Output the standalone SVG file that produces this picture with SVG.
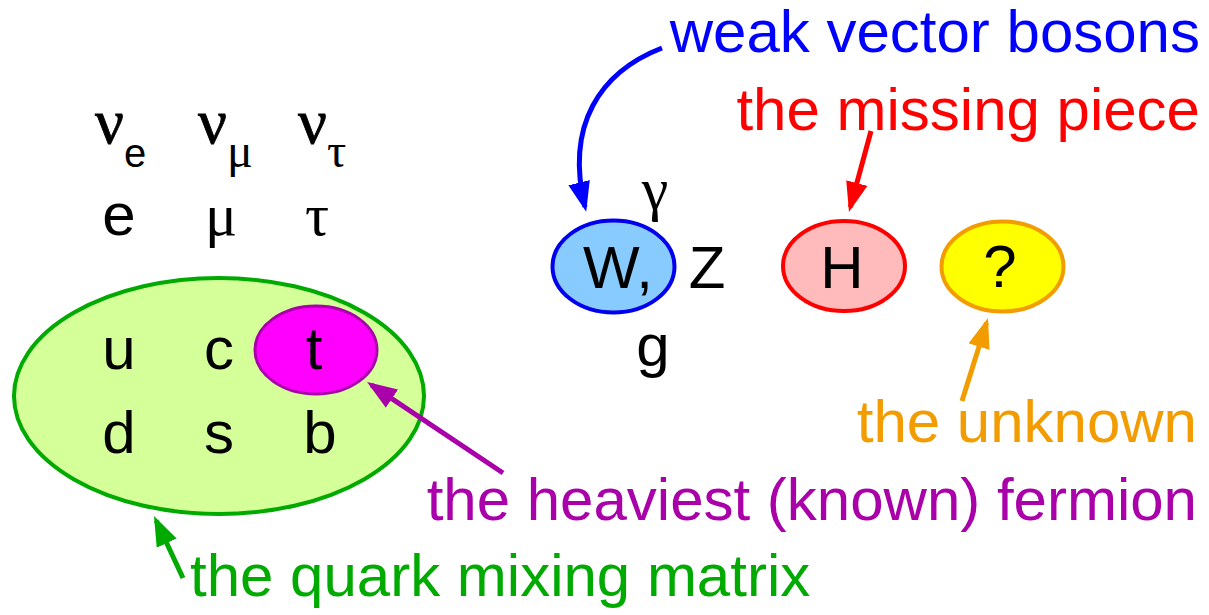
<svg xmlns="http://www.w3.org/2000/svg" width="1209" height="615" viewBox="0 0 1209 615">
<style>
.t{font-family:"Liberation Sans",Arial,sans-serif;font-size:60px;fill:#000;text-anchor:middle}
.g{font-family:"Liberation Serif","Times New Roman",serif;font-size:60px;fill:#000;text-anchor:middle}
.nu{font-family:"Liberation Serif","Times New Roman",serif;font-size:64px;fill:#000;stroke:#000;stroke-width:0.8}
.sub{font-size:40px;stroke:none}
.gsub{font-size:48px;stroke:none}
.lbl{font-family:"Liberation Sans",Arial,sans-serif;font-size:60px}
.arr{fill:none;stroke-width:5}
</style>
<defs>
<marker id="mb" markerWidth="6" markerHeight="4.4" refX="5" refY="2.2" orient="auto" markerUnits="strokeWidth"><path d="M0,0 L6,2.2 L0,4.4 z" fill="#0000ff"/></marker>
<marker id="mr" markerWidth="6" markerHeight="4.4" refX="5" refY="2.2" orient="auto" markerUnits="strokeWidth"><path d="M0,0 L6,2.2 L0,4.4 z" fill="#ff0000"/></marker>
<marker id="mo" markerWidth="6" markerHeight="4.4" refX="5" refY="2.2" orient="auto" markerUnits="strokeWidth"><path d="M0,0 L6,2.2 L0,4.4 z" fill="#f29c00"/></marker>
<marker id="mm" markerWidth="6" markerHeight="4.4" refX="5" refY="2.2" orient="auto" markerUnits="strokeWidth"><path d="M0,0 L6,2.2 L0,4.4 z" fill="#aa00aa"/></marker>
<marker id="mg" markerWidth="6" markerHeight="4.4" refX="5" refY="2.2" orient="auto" markerUnits="strokeWidth"><path d="M0,0 L6,2.2 L0,4.4 z" fill="#00aa00"/></marker>
</defs>

<g id="leptons">
<text class="nu" x="95" y="143">ν<tspan class="sub" font-family="Liberation Sans,Arial,sans-serif" dy="24">e</tspan></text>
<text class="nu" x="198" y="143">ν<tspan class="gsub" dy="24">μ</tspan></text>
<text class="nu" x="298" y="143">ν<tspan class="gsub" dy="24">τ</tspan></text>
<text class="t" x="119" y="235">e</text>
<text class="g" x="221" y="235" font-size="66">μ</text>
<text class="g" x="317" y="235" font-size="66">τ</text>
</g>

<g id="quark-matrix">
<ellipse cx="219" cy="396" rx="205" ry="118" fill="#d4ff99" stroke="#00aa00" stroke-width="4"/>
<text class="t" x="119" y="369">u</text>
<text class="t" x="219" y="369">c</text>
<text class="t" x="119" y="453">d</text>
<text class="t" x="219" y="453">s</text>
<text class="t" x="320" y="453">b</text>
</g>

<g id="top">
<ellipse cx="316" cy="350" rx="61" ry="44" fill="#ff00ff" stroke="#aa00aa" stroke-width="3"/>
<text class="t" x="314" y="369">t</text>
</g>

<g id="W">
<ellipse cx="613.5" cy="266.5" rx="61" ry="46" fill="#88ccff" stroke="#0000ee" stroke-width="4"/>
<text class="t" x="618" y="288">W,</text>
</g>
<g id="bosons">
<text class="t" x="707" y="288">Z</text>
<text class="g" x="655" y="209">γ</text>
<text class="t" x="653" y="366">g</text>
</g>

<g id="H">
<ellipse cx="844" cy="266" rx="61" ry="45" fill="#ffbbbb" stroke="#ff0000" stroke-width="4"/>
<text class="t" x="842" y="288">H</text>
</g>

<g id="unknown">
<ellipse cx="1002.5" cy="266.5" rx="61" ry="45" fill="#ffff00" stroke="#f29c00" stroke-width="4"/>
<text class="t" x="1000" y="287" font-size="54">?</text>
</g>

<g id="labels">
<text class="lbl" x="1200" y="52" text-anchor="end" fill="#0000ff">weak vector bosons</text>
<text class="lbl" x="1200" y="130" text-anchor="end" fill="#ff0000">the missing piece</text>
<text class="lbl" x="1197" y="442" text-anchor="end" fill="#f29c00">the unknown</text>
<text class="lbl" x="1197" y="520" text-anchor="end" fill="#aa00aa">the heaviest (known) fermion</text>
<text class="lbl" x="190" y="596" fill="#00aa00">the quark mixing matrix</text>
</g>

<g id="connectors">
<path class="arr" stroke="#0000ff" marker-end="url(#mb)" d="M662,48 C600,72 565,125 585,207"/>
<path class="arr" stroke="#ff0000" marker-end="url(#mr)" d="M871,131 L850.3,207.2"/>
<path class="arr" stroke="#f29c00" marker-end="url(#mo)" d="M962,401 L986.5,322.8"/>
<path class="arr" stroke="#aa00aa" marker-end="url(#mm)" d="M503,473 L371.2,384.8"/>
<path class="arr" stroke="#00aa00" marker-end="url(#mg)" d="M183,578 L156.1,520.5"/>
</g>
</svg>
